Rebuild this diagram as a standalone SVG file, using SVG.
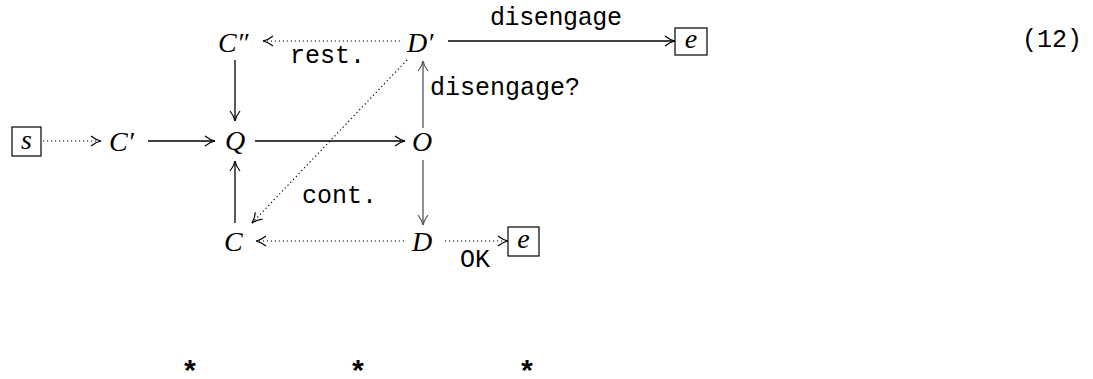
<svg xmlns="http://www.w3.org/2000/svg" width="1093" height="379" viewBox="0 0 1093 379">
<style>
.m{font-family:"Liberation Serif",serif;font-style:italic;font-size:28px;fill:#000}
.t{font-family:"Liberation Mono",monospace;font-size:25px;fill:#000}
.e{fill:none;stroke:#000;stroke-width:1.3}
.g{stroke:#555}
.d{stroke-dasharray:1.2 2.8;stroke-width:1.2}
.b{fill:#fff;stroke:#000;stroke-width:1.2}
</style>
<defs>
<marker id="ah" markerUnits="userSpaceOnUse" markerWidth="14" markerHeight="14" refX="11" refY="6" orient="auto">
<path d="M1,1 Q6,5 11,6 Q6,7 1,11" fill="none" stroke="#000" stroke-width="1.2"/>
</marker>
<marker id="ahg" markerUnits="userSpaceOnUse" markerWidth="14" markerHeight="14" refX="11" refY="6" orient="auto">
<path d="M1,1 Q6,5 11,6 Q6,7 1,11" fill="none" stroke="#555" stroke-width="1.2"/>
</marker>
</defs>
<g id="connectors">
<line class="e d" x1="400" y1="41" x2="263" y2="41" marker-end="url(#ah)"/>
<line class="e" x1="448" y1="41" x2="675" y2="41" marker-end="url(#ah)"/>
<line class="e" x1="235" y1="60" x2="235" y2="121" marker-end="url(#ah)"/>
<line class="e d" x1="43" y1="141" x2="101" y2="141" marker-end="url(#ah)"/>
<line class="e" x1="148" y1="141" x2="215" y2="141" marker-end="url(#ah)"/>
<line class="e" x1="255" y1="141" x2="405" y2="141" marker-end="url(#ah)"/>
<line class="e g" x1="423" y1="128" x2="423" y2="61" marker-end="url(#ahg)"/>
<line class="e g" x1="423" y1="160" x2="423" y2="225" marker-end="url(#ahg)"/>
<line class="e" x1="235" y1="223" x2="235" y2="161" marker-end="url(#ah)"/>
<line class="e d" x1="407" y1="60" x2="252" y2="223" marker-end="url(#ah)"/>
<line class="e d" x1="404" y1="241" x2="256" y2="241" marker-end="url(#ah)"/>
<line class="e d" x1="445" y1="241" x2="508" y2="241" marker-end="url(#ah)"/>
<text class="t" x="290" y="63">rest.</text>
<text class="t" x="490" y="25" textLength="132">disengage</text>
<text class="t" x="430" y="95" textLength="150">disengage?</text>
<text class="t" x="302" y="203">cont.</text>
<text class="t" x="460" y="267">OK</text>
</g>
<g id="s"><rect class="b" x="12" y="127" width="29" height="29"/><text class="m" x="26.5" y="149" text-anchor="middle">s</text></g>
<g id="Cpp"><text class="m" x="218" y="52">C″</text></g>
<g id="Dp"><text class="m" x="407" y="52">D′</text></g>
<g id="e1"><rect class="b" x="675" y="28" width="32" height="27"/><text class="m" x="691" y="48" text-anchor="middle">e</text></g>
<g id="Cp"><text class="m" x="109" y="151">C′</text></g>
<g id="Q"><text class="m" x="225" y="150">Q</text></g>
<g id="O"><text class="m" x="412" y="151">O</text></g>
<g id="C"><text class="m" x="224" y="251">C</text></g>
<g id="D"><text class="m" x="412" y="251">D</text></g>
<g id="e2"><rect class="b" x="508" y="227" width="31" height="29"/><text class="m" x="523.5" y="248" text-anchor="middle">e</text></g>
<text class="t" x="1022" y="47">(12)</text>
<g class="t" style="font-size:30px;font-weight:bold" text-anchor="middle">
<text x="190" y="382">*</text><text x="358" y="382">*</text><text x="527" y="382">*</text>
</g>
</svg>
